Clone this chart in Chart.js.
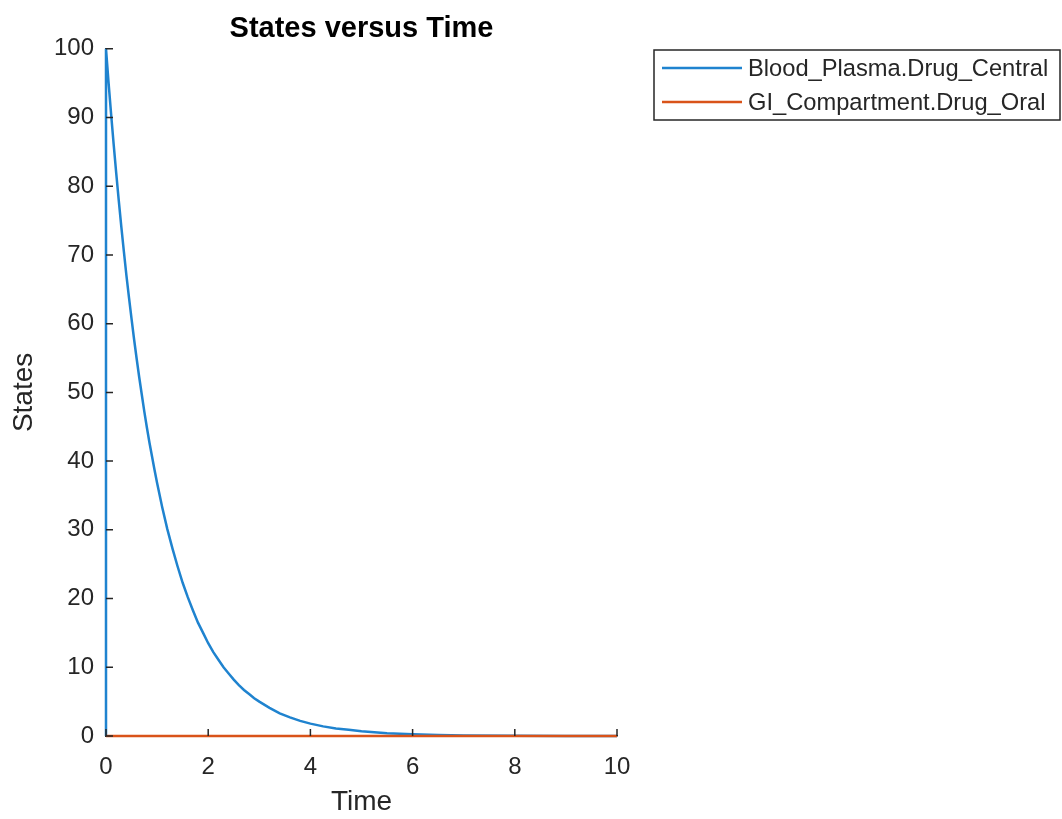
<!DOCTYPE html>
<html>
<head>
<meta charset="utf-8">
<title>States versus Time</title>
<script src="https://cdn.jsdelivr.net/npm/chart.js@4.4.1/dist/chart.umd.min.js"></script>
<style>
  html, body { margin: 0; padding: 0; background: #fff; }
  #wrap { width: 1062px; height: 819px; }
</style>
</head>
<body>
<div id="wrap"><canvas id="chart" width="1062" height="819"></canvas></div>
<script>
// values
const centralTime = [0, 0, 0.05, 0.1, 0.15, 0.2, 0.25, 0.3, 0.35, 0.4, 0.45, 0.5, 0.55, 0.6, 0.65, 0.7, 0.75,
  0.8, 0.85, 0.9, 0.95, 1.0, 1.1, 1.2, 1.3, 1.4, 1.5, 1.6, 1.7, 1.8, 1.9, 2.0, 2.1, 2.2, 2.3, 2.4, 2.5,
  2.6, 2.7, 2.8, 2.9, 3.0, 3.2, 3.4, 3.6, 3.8, 4.0, 4.25, 4.5, 4.75, 5.0, 5.5, 6.0, 6.5, 7.0, 8.0, 9.0, 10.0];
const centralValues = [0, 100, 95.1, 90.5, 86.1, 81.9, 77.9, 74.1, 70.5, 67.0, 63.8, 60.7, 57.7, 54.9, 52.2, 49.7, 47.2,
  44.9, 42.7, 40.7, 38.7, 36.8, 33.3, 30.1, 27.3, 24.7, 22.3, 20.2, 18.3, 16.5, 15.0, 13.5, 12.2, 11.1, 10.0, 9.1, 8.2,
  7.4, 6.7, 6.1, 5.5, 5.0, 4.1, 3.3, 2.7, 2.2, 1.8, 1.4, 1.1, 0.9, 0.7, 0.4, 0.25, 0.15, 0.09, 0.03, 0.01, 0.0];
const oralTime = [0, 10];
const oralValues = [0, 0];

const seriesLabels = ['Blood_Plasma.Drug_Central', 'GI_Compartment.Drug_Oral'];
const xTicks = [0, 2, 4, 6, 8, 10];
const yTicks = [0, 10, 20, 30, 40, 50, 60, 70, 80, 90, 100];

const FONT = '"Liberation Sans", Arial, Helvetica, sans-serif';
const AXIS = '#262626';

const toPoints = (xs, ys) => xs.map((x, i) => ({ x: x, y: ys[i] }));

// matlab style ticks pointing into the plot
const innerTicks = {
  id: 'innerTicks',
  afterDatasetsDraw(chart) {
    const { ctx, chartArea, scales } = chart;
    ctx.save();
    ctx.strokeStyle = AXIS;
    ctx.lineWidth = 1.5;
    ctx.beginPath();
    xTicks.forEach(v => {
      const px = scales.x.getPixelForValue(v);
      ctx.moveTo(px, chartArea.bottom);
      ctx.lineTo(px, chartArea.bottom - 7);
    });
    yTicks.forEach(v => {
      const py = scales.y.getPixelForValue(v);
      ctx.moveTo(chartArea.left, py);
      ctx.lineTo(chartArea.left + 7, py);
    });
    ctx.stroke();
    ctx.restore();
  }
};

// boxed legend to the right of the axes
const boxLegend = {
  id: 'boxLegend',
  afterDraw(chart) {
    const ctx = chart.ctx;
    const left = 654, top = 50, w = 406, h = 70;
    ctx.save();
    ctx.fillStyle = '#fff';
    ctx.fillRect(left, top, w, h);
    ctx.strokeStyle = AXIS;
    ctx.lineWidth = 1.5;
    ctx.strokeRect(left, top, w, h);
    ctx.font = '23.7px ' + FONT;
    ctx.textBaseline = 'middle';
    chart.data.datasets.forEach((ds, i) => {
      const y = 68 + i * 34;
      ctx.strokeStyle = ds.borderColor;
      ctx.lineWidth = 2.5;
      ctx.beginPath();
      ctx.moveTo(662, y);
      ctx.lineTo(742, y);
      ctx.stroke();
      ctx.fillStyle = AXIS;
      ctx.fillText(ds.label, 748, y + 1);
    });
    ctx.restore();
  }
};

new Chart(document.getElementById('chart'), {
  type: 'line',
  data: {
    datasets: [
      {
        label: seriesLabels[0],
        data: toPoints(centralTime, centralValues),
        borderColor: '#1f83cf',
        borderWidth: 2.5,
        pointRadius: 0,
        tension: 0,
        clip: false,
        order: 1
      },
      {
        label: seriesLabels[1],
        data: toPoints(oralTime, oralValues),
        borderColor: '#D95319',
        borderWidth: 2.5,
        pointRadius: 0,
        tension: 0,
        clip: false,
        order: 0
      }
    ]
  },
  options: {
    responsive: false,
    animation: false,
    devicePixelRatio: 1,
    layout: { padding: { left: 0, top: 0, right: 445, bottom: 0 } },
    plugins: {
      legend: { display: false },
      tooltip: { enabled: false },
      title: {
        display: true,
        text: 'States versus Time',
        fullSize: false,
        color: '#000',
        font: { family: FONT, size: 29, weight: 'bold', lineHeight: 1.2 },
        padding: { top: 12, bottom: 2 }
      }
    },
    scales: {
      x: {
        type: 'linear',
        min: 0,
        max: 10,
        afterFit: s => { s.height = 83; },
        afterBuildTicks: s => { s.ticks = xTicks.map(v => ({ value: v })); },
        grid: { display: false, drawTicks: false },
        border: { display: true, color: AXIS, width: 1.5 },
        ticks: { color: AXIS, padding: 17, maxRotation: 0, font: { family: FONT, size: 24 } },
        title: { display: true, text: 'Time', color: AXIS, padding: { top: 0, bottom: 0 },
          font: { family: FONT, size: 28 } }
      },
      y: {
        type: 'linear',
        min: 0,
        max: 100,
        afterFit: s => { s.width = 106; },
        afterBuildTicks: s => { s.ticks = yTicks.map(v => ({ value: v })); },
        grid: { display: false, drawTicks: false },
        border: { display: true, color: AXIS, width: 1.5 },
        ticks: { color: AXIS, padding: 12, font: { family: FONT, size: 24 } },
        title: { display: true, text: 'States', color: AXIS, padding: { top: 7, bottom: 0 },
          font: { family: FONT, size: 28 } }
      }
    }
  },
  plugins: [innerTicks, boxLegend]
});
</script>
</body>
</html>
